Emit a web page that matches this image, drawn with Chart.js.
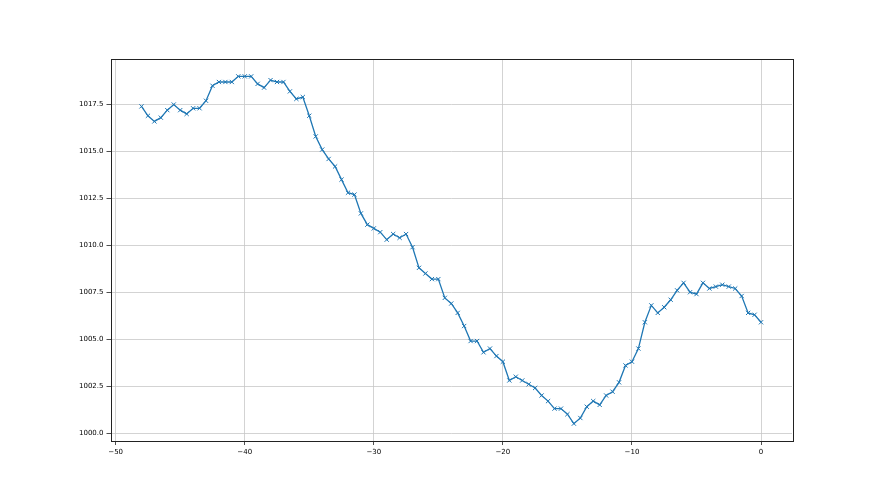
<!DOCTYPE html>
<html>
<head>
<meta charset="utf-8">
<script src="https://cdn.jsdelivr.net/npm/chart.js@4/dist/chart.umd.min.js"></script>
<style>
  html, body { margin: 0; padding: 0; background: #fff; }
  #wrap { width: 880px; height: 495px; }
</style>
</head>
<body>
<div id="wrap"><canvas id="grafica" width="880" height="495"></canvas></div>
<script>
// hours relative to now, every half hour
const horas = [];
for (let h = -48; h <= 0; h += 0.5) horas.push(h);

// pressure readings
const presion = [
  1017.4, 1016.9, 1016.6, 1016.8, 1017.2, 1017.5, 1017.2, 1017.0, 1017.3, 1017.3,
  1017.7, 1018.5, 1018.7, 1018.7, 1018.7, 1019.0, 1019.0, 1019.0, 1018.6, 1018.4,
  1018.8, 1018.7, 1018.7, 1018.2, 1017.8, 1017.9, 1016.9, 1015.8, 1015.1, 1014.6,
  1014.2, 1013.5, 1012.8, 1012.7, 1011.7, 1011.1, 1010.9, 1010.7, 1010.3, 1010.6,
  1010.4, 1010.6, 1009.9, 1008.8, 1008.5, 1008.2, 1008.2, 1007.2, 1006.9, 1006.4,
  1005.7, 1004.9, 1004.9, 1004.3, 1004.5, 1004.1, 1003.8, 1002.8, 1003.0, 1002.8,
  1002.6, 1002.4, 1002.0, 1001.7, 1001.3, 1001.3, 1001.0, 1000.5, 1000.8, 1001.4,
  1001.7, 1001.5, 1002.0, 1002.2, 1002.7, 1003.6, 1003.8, 1004.5, 1005.9, 1006.8,
  1006.4, 1006.7, 1007.1, 1007.6, 1008.0, 1007.5, 1007.4, 1008.0, 1007.7, 1007.8,
  1007.9, 1007.8, 1007.7, 1007.3, 1006.4, 1006.3, 1005.9
];

const ticksX = [-50, -40, -30, -20, -10, 0];
const ticksY = [1000.0, 1002.5, 1005.0, 1007.5, 1010.0, 1012.5, 1015.0, 1017.5];

const puntos = horas.map((h, i) => ({x: h, y: presion[i]}));

// matplotlib style 5% margins
const rangoX = horas[horas.length - 1] - horas[0];
const minY = Math.min(...presion), maxY = Math.max(...presion);
const rangoY = maxY - minY;

const marco = {
  id: 'marco',
  afterDraw(chart) {
    const {ctx, chartArea: a} = chart;
    ctx.save();
    ctx.strokeStyle = '#222';
    ctx.lineWidth = 1;
    ctx.strokeRect(Math.round(a.left) + 0.5, Math.round(a.top) + 0.5,
      Math.round(a.right - a.left), Math.round(a.bottom - a.top));
    ctx.restore();
  }
};

const fuente = {family: "'DejaVu Sans', sans-serif", size: 7};

new Chart(document.getElementById('grafica'), {
  type: 'line',
  data: {
    datasets: [{
      data: puntos,
      borderColor: '#1f77b4',
      backgroundColor: '#1f77b4',
      borderWidth: 1.3,
      pointStyle: 'crossRot',
      pointRadius: 3,
      pointBorderWidth: 1,
      pointBorderColor: '#1f77b4',
      tension: 0,
      fill: false
    }]
  },
  options: {
    responsive: false,
    animation: false,
    layout: {padding: {left: 0, top: 59, right: 88, bottom: 0}},
    plugins: {legend: {display: false}, tooltip: {enabled: false}},
    scales: {
      x: {
        type: 'linear',
        min: horas[0] - rangoX * 0.05,
        max: horas[horas.length - 1] + rangoX * 0.05,
        afterBuildTicks: s => { s.ticks = ticksX.map(v => ({value: v})); },
        afterFit: s => { s.height = 54; },
        grid: {color: '#c8c8c8', lineWidth: 0.8, tickLength: 4, tickColor: '#222'},
        border: {display: false},
        ticks: {
          font: fuente, color: '#000', padding: 3, maxRotation: 0,
          callback: v => String(v).replace('-', '\u2212')
        }
      },
      y: {
        type: 'linear',
        min: minY - rangoY * 0.05,
        max: maxY + rangoY * 0.05,
        afterBuildTicks: s => { s.ticks = ticksY.map(v => ({value: v})); },
        afterFit: s => { s.width = 110.5; },
        grid: {color: '#c8c8c8', lineWidth: 0.8, tickLength: 4, tickColor: '#222'},
        border: {display: false},
        ticks: {
          font: fuente, color: '#000', padding: 3,
          callback: v => v.toFixed(1)
        }
      }
    }
  },
  plugins: [marco]
});
</script>
</body>
</html>
